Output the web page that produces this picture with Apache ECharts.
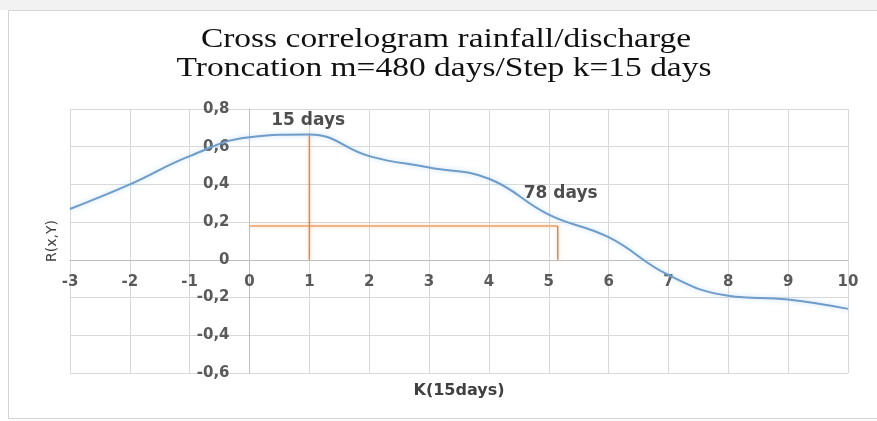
<!DOCTYPE html>
<html>
<head>
<meta charset="utf-8">
<script src="https://cdn.jsdelivr.net/npm/echarts@6/dist/echarts.min.js"></script>
<style>html,body{margin:0;padding:0;background:#fff}#c{width:877px;height:421px}</style>
</head>
<body>
<div id="c"></div>
<script>
// Lag k (in 15-day steps) and cross-correlation R(x,Y)
var lags = [-3, -2, -1, 0, 1, 2, 3, 4, 5, 6, 7, 8, 9, 10];
var rValues = [0.27, 0.40, 0.55, 0.65, 0.665, 0.55, 0.49, 0.43, 0.24, 0.12, -0.08, -0.19, -0.21, -0.26];
// Orange guide lines
var guide15X = [1, 1];
var guide15Y = [0, 0.665];
var guideHX = [0, 5.15];
var guideHY = [0.18, 0.18];
var guide78X = [5.15, 5.15];
var guide78Y = [0.18, 0];
// Annotations
var noteTexts = ['15 days', '78 days'];
var noteX = [0.98, 5.2];
var noteY = [0.74, 0.35];
var titleLines = ['Cross correlogram rainfall/discharge', 'Troncation m=480 days/Step k=15 days'];
var xMin = -3, xMax = 10, yMin = -0.6, yMax = 0.8;

function zip(a, b) { return a.map(function (v, i) { return [v, b[i]]; }); }

var W = 877, H = 421;
var G = { left: 70, right: 29, top: 109, bottom: 48 };
var plotW = W - G.left - G.right, plotH = H - G.top - G.bottom;
// shift axes so that they cross at the origin (x=0, y=0)
var xAxisOffset = -plotH * (0 - yMin) / (yMax - yMin);
var yAxisOffset = -plotW * (0 - xMin) / (xMax - xMin);

var titleStyle = { fontFamily: 'Liberation Serif', fontSize: 27, fill: '#111', align: 'center', verticalAlign: 'middle' };
var orangeDark = { color: '#d98a52', width: 1.5, shadowColor: 'rgba(240,160,90,0.45)', shadowBlur: 4 };
var orangeLight = { color: '#f0b487', width: 2, shadowColor: 'rgba(245,180,120,0.45)', shadowBlur: 4 };
var chart = echarts.init(document.getElementById('c'));
chart.setOption({
  backgroundColor: '#ffffff',
  animation: false,
  graphic: [
    { type: 'rect', shape: { x: 0, y: 0, width: 877, height: 10 }, style: { fill: '#f2f2f2' }, silent: true },
    { type: 'rect', shape: { x: 8.5, y: 10.5, width: 880, height: 408 }, style: { fill: 'none', stroke: '#d4d4d4', lineWidth: 1 }, silent: true },
    { type: 'text', x: 446, y: 40, scaleX: 1.24, style: Object.assign({ text: titleLines[0] }, titleStyle), silent: true },
    { type: 'text', x: 444, y: 69, scaleX: 1.24, style: Object.assign({ text: titleLines[1] }, titleStyle), silent: true }
  ],
  grid: { left: G.left, right: G.right, top: G.top, bottom: G.bottom, outerBoundsMode: 'none', containLabel: false },
  xAxis: {
    type: 'value', min: xMin, max: xMax, interval: 1, offset: xAxisOffset,
    name: 'K(15days)', nameLocation: 'middle', nameGap: 123,
    nameTextStyle: { fontFamily: 'DejaVu Sans', fontSize: 16, fontWeight: 'bold', color: '#404040' },
    axisLine: { onZero: false, lineStyle: { color: '#bfbfbf', width: 1 } },
    axisTick: { show: false },
    axisLabel: { fontFamily: 'DejaVu Sans', fontSize: 15, fontWeight: 'bold', color: '#5a5a5a', margin: 15 },
    splitLine: { show: true, lineStyle: { color: '#d9d9d9', width: 1 } }
  },
  yAxis: {
    type: 'value', min: yMin, max: yMax, interval: 0.2, offset: yAxisOffset,
    name: 'R(x,Y)', nameLocation: 'middle', nameGap: 190,
    nameTextStyle: { fontFamily: 'DejaVu Sans', fontSize: 14, color: '#404040' },
    axisLine: { show: true, onZero: false, lineStyle: { color: '#bfbfbf', width: 1 } },
    axisTick: { show: false },
    axisLabel: {
      fontFamily: 'DejaVu Sans', fontSize: 15, fontWeight: 'bold', color: '#5a5a5a', margin: 20,
      formatter: function (v) { return Math.abs(v) < 1e-9 ? '0' : v.toFixed(1).replace('.', ','); }
    },
    splitLine: { show: true, lineStyle: { color: '#d9d9d9', width: 1 } }
  },
  series: [
    { type: 'line', data: zip(guideHX, guideHY), symbol: 'none', lineStyle: orangeLight, z: 2 },
    { type: 'line', data: zip(guide15X, guide15Y), symbol: 'none', lineStyle: orangeDark, z: 2 },
    { type: 'line', data: zip(guide78X, guide78Y), symbol: 'none', lineStyle: orangeDark, z: 2 },
    {
      type: 'line', data: zip(lags, rValues), smooth: 0.45, symbol: 'none',
      lineStyle: { color: '#6f9cc8', width: 2, shadowColor: 'rgba(140,195,240,0.6)', shadowBlur: 5 }, z: 3
    },
    {
      type: 'scatter', symbolSize: 0, z: 4,
      data: zip(noteX, noteY).map(function (p, i) { return { value: p, name: noteTexts[i] }; }),
      label: {
        show: true, position: 'inside', formatter: function (p) { return p.name; },
        fontFamily: 'DejaVu Sans', fontSize: 17, fontWeight: 'bold', color: '#222'
      }
    }
  ]
});
</script>
</body>
</html>
